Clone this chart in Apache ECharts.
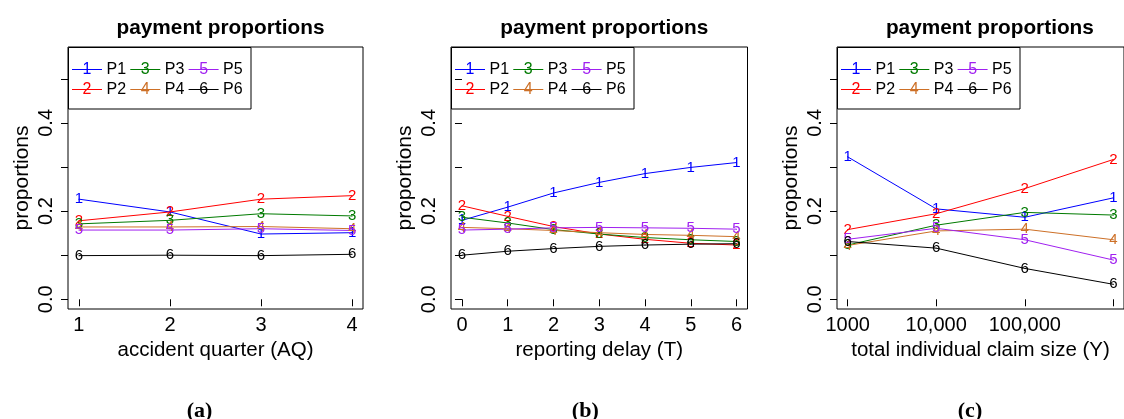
<!DOCTYPE html>
<html>
<head>
<meta charset="utf-8">
<script src="https://cdn.jsdelivr.net/npm/echarts@6/dist/echarts.min.js"></script>
<style>
  html, body { margin: 0; padding: 0; background: #fff; }
  #chart { width: 1124px; height: 419px; }
</style>
</head>
<body>
<div id="chart"></div>
<script>
// ---------- data ----------
const seriesNames = ['P1', 'P2', 'P3', 'P4', 'P5', 'P6'];
const seriesColors = ['#0000FF', '#FF0000', '#007A00', '#CD7027', '#A020F0', '#000000'];

// (a) accident quarter
const accidentQuarter = [1, 2, 3, 4];
const aqP1 = [0.227, 0.198, 0.148, 0.151];
const aqP2 = [0.178, 0.198, 0.227, 0.235];
const aqP3 = [0.171, 0.179, 0.194, 0.189];
const aqP4 = [0.164, 0.164, 0.165, 0.160];
const aqP5 = [0.157, 0.157, 0.160, 0.156];
const aqP6 = [0.099, 0.100, 0.099, 0.102];

// (b) reporting delay
const reportingDelay = [0, 1, 2, 3, 4, 5, 6];
const rdP1 = [0.179, 0.209, 0.241, 0.265, 0.285, 0.299, 0.310];
const rdP2 = [0.212, 0.188, 0.165, 0.148, 0.136, 0.127, 0.123];
const rdP3 = [0.186, 0.173, 0.158, 0.148, 0.140, 0.135, 0.131];
const rdP4 = [0.163, 0.160, 0.156, 0.151, 0.147, 0.145, 0.142];
const rdP5 = [0.157, 0.159, 0.162, 0.163, 0.162, 0.161, 0.159];
const rdP6 = [0.100, 0.109, 0.115, 0.120, 0.123, 0.125, 0.126];

// (c) total individual claim size
const claimSize = [1000, 10000, 100000, 1000000];
const claimSizeTickLabels = ['1000', '10,000', '100,000'];
const csP1 = [0.323, 0.205, 0.186, 0.230];
const csP2 = [0.158, 0.194, 0.251, 0.317];
const csP3 = [0.123, 0.168, 0.197, 0.191];
const csP4 = [0.122, 0.155, 0.159, 0.135];
const csP5 = [0.136, 0.161, 0.135, 0.089];
const csP6 = [0.131, 0.116, 0.070, 0.034];

const yTicks = [0, 0.1, 0.2, 0.3, 0.4, 0.5];
const yTickLabels = [0, 0.2, 0.4];

const panelTitle = 'payment proportions';
const xAxisTitles = ['accident quarter (AQ)', 'reporting delay (T)', 'total individual claim size (Y)'];
const yAxisTitle = 'proportions';
const captions = ['a', 'b', 'c'];

// ---------- layout ----------
const FONT = '"Liberation Sans", Arial, Helvetica, sans-serif';
const SERIF = '"Liberation Serif", "DejaVu Serif", serif';
const grids = [
  { left: 68, top: 47, width: 295, height: 262 },
  { left: 451, top: 47, width: 296.5, height: 262 },
  { left: 837, top: 47, width: 295.8, height: 262 }
];
const captionX = [194.5, 580.3, 965];

const log10 = v => Math.log10(v);
const panels = [
  { xs: accidentQuarter, rows: [aqP1, aqP2, aqP3, aqP4, aqP5, aqP6],
    min: 0.88, max: 4.12, ticks: accidentQuarter, labels: accidentQuarter, fmt: v => String(v) },
  { xs: reportingDelay, rows: [rdP1, rdP2, rdP3, rdP4, rdP5, rdP6],
    min: -0.24, max: 6.24, ticks: reportingDelay, labels: reportingDelay, fmt: v => String(v) },
  { xs: claimSize.map(log10), rows: [csP1, csP2, csP3, csP4, csP5, csP6],
    min: 2.88, max: 6.12, ticks: claimSize.map(log10),
    labels: claimSize.slice(0, claimSizeTickLabels.length).map(log10),
    fmt: v => claimSizeTickLabels[Math.round(v) - 3] || '' }
];

const xAxes = panels.map((p, i) => ({
  type: 'value', gridIndex: i, min: p.min, max: p.max,
  axisLine: { show: false },
  splitLine: { show: false },
  axisTick: { show: true, inside: false, length: 7, customValues: p.ticks, lineStyle: { color: '#000', width: 1 } },
  axisLabel: { show: true, customValues: p.labels, formatter: p.fmt, margin: 6,
    color: '#000', fontSize: 20, fontFamily: FONT },
  name: xAxisTitles[i], nameLocation: 'middle', nameGap: 29,
  nameTextStyle: { color: '#000', fontSize: 20.5, fontFamily: FONT }
}));

const yAxes = panels.map((p, i) => ({
  type: 'value', gridIndex: i, min: -0.022, max: 0.572,
  axisLine: { show: false },
  splitLine: { show: false },
  axisTick: { show: true, inside: false, length: 7, customValues: yTicks, lineStyle: { color: '#000', width: 1 } },
  axisLabel: { show: true, customValues: yTickLabels, rotate: 90, margin: 12,
    formatter: v => v.toFixed(1), color: '#000', fontSize: 20, fontFamily: FONT },
  name: yAxisTitle, nameLocation: 'middle', nameGap: 35, nameRotate: 90,
  nameTextStyle: { color: '#000', fontSize: 21, fontFamily: FONT }
}));

const series = [];
panels.forEach((p, gi) => {
  p.rows.forEach((ys, si) => {
    series.push({
      type: 'line', name: seriesNames[si], xAxisIndex: gi, yAxisIndex: gi,
      data: p.xs.map((x, j) => [x, ys[j]]),
      symbol: 'circle', symbolSize: 1, showSymbol: true,
      itemStyle: { color: seriesColors[si] },
      lineStyle: { color: seriesColors[si], width: 1 },
      label: { show: true, position: 'inside', formatter: String(si + 1),
        color: seriesColors[si], fontSize: 15, fontFamily: FONT },
      emphasis: { disabled: true },
      animation: false, clip: true
    });
  });
});

// legend drawn as graphics from the series names / colours
const graphics = [];
grids.forEach(g => {
  const children = [{
    type: 'rect', shape: { x: 0.5, y: 0.5, width: 182.5, height: 61.5 },
    style: { fill: '#fff', stroke: '#000', lineWidth: 1 }
  }];
  seriesNames.forEach((nm, si) => {
    const col = Math.floor(si / 2), row = si % 2;
    const x0 = 4 + col * 58.3, yc = 22.5 + row * 20;
    children.push({ type: 'line', shape: { x1: x0, y1: yc, x2: x0 + 30, y2: yc },
      style: { stroke: seriesColors[si], lineWidth: 1 } });
    children.push({ type: 'text', x: x0 + 15, y: yc,
      style: { text: String(si + 1), fill: seriesColors[si], font: '16px ' + FONT, align: 'center', verticalAlign: 'middle' } });
    children.push({ type: 'text', x: x0 + 34.5, y: yc,
      style: { text: nm, fill: '#000', font: '16px ' + FONT, align: 'left', verticalAlign: 'middle' } });
  });
  graphics.push({ type: 'group', x: g.left, y: g.top, z: 100, children });
});

const titles = grids.map(g => ({
  text: panelTitle, left: g.left + g.width / 2, top: 13, textAlign: 'center',
  textStyle: { fontSize: 20.8, fontWeight: 'bold', color: '#000', fontFamily: FONT }
}));
captions.forEach((c, i) => {
  titles.push({
    text: '{p|(}{b|' + c + '}{p|)}', left: captionX[i], top: 395, textAlign: 'center',
    textStyle: { rich: {
      p: { fontSize: 22, fontFamily: SERIF, color: '#000' },
      b: { fontSize: 22, fontWeight: 'bold', fontFamily: SERIF, color: '#000' }
    } }
  });
});

const chart = echarts.init(document.getElementById('chart'), null, { renderer: 'canvas' });
chart.setOption({
  animation: false,
  backgroundColor: '#fff',
  title: titles,
  grid: grids.map(g => Object.assign({ show: true, borderColor: '#000', borderWidth: 1, backgroundColor: 'transparent', containLabel: false }, g)),
  xAxis: xAxes,
  yAxis: yAxes,
  series,
  graphic: graphics,
  tooltip: { show: false }
});
</script>
</body>
</html>
